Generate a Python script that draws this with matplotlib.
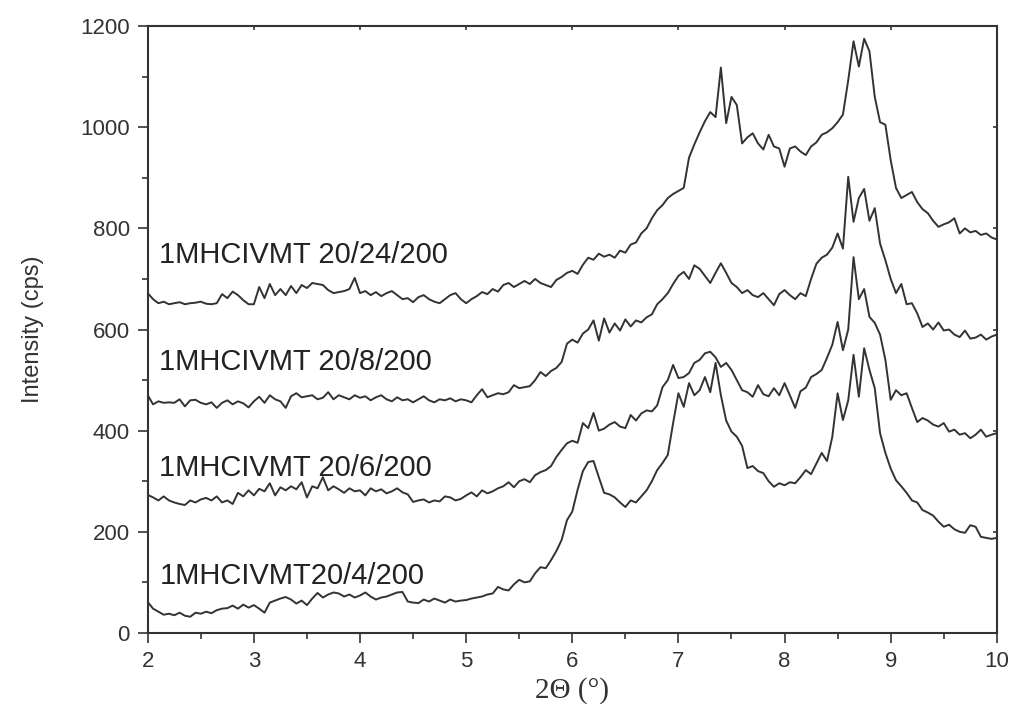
import numpy as np
import matplotlib

matplotlib.use("Agg")
import matplotlib.pyplot as plt
from matplotlib.ticker import MultipleLocator

# 2-theta grid, step 0.05 deg (2.00 ... 10.00)
two_theta = np.round(np.linspace(2.0, 10.0, 161), 2)

labels = ["1MHCIVMT 20/24/200", "1MHCIVMT 20/8/200", "1MHCIVMT 20/6/200", "1MHCIVMT20/4/200"]
label_y = [747, 536, 326, 113]

i_24 = [
    672, 660, 652, 655, 650, 652, 654, 650, 652, 653, 655, 651, 650, 652, 670, 662, 675, 668, 658, 650,
    650, 684, 662, 690, 668, 680, 668, 686, 672, 688, 682, 692, 690, 688, 678, 672, 674, 676, 680, 702,
    672, 676, 668, 674, 666, 672, 676, 668, 660, 662, 654, 664, 668, 660, 655, 652, 660, 668, 672, 660,
    652, 660, 666, 674, 670, 680, 675, 688, 692, 684, 690, 696, 690, 700, 692, 688, 684, 698, 704, 712,
    716, 710, 728, 742, 738, 750, 744, 748, 742, 756, 752, 768, 772, 790, 800, 820, 836, 846, 860, 868,
    874, 880, 940, 966, 990, 1012, 1030, 1020, 1118, 1008, 1060, 1044, 968, 980, 988, 968, 956, 985, 962, 958,
    922, 958, 962, 952, 945, 962, 970, 985, 990, 998, 1010, 1025, 1093, 1170, 1120, 1175, 1150, 1060, 1010, 1005,
    935, 880, 860, 866, 872, 852, 838, 830, 815, 803, 808, 812, 820, 790, 800, 792, 795, 787, 790, 782,
    778,
]

i_8 = [
    470, 452, 458, 455, 456, 455, 462, 448, 460, 461, 455, 452, 456, 445, 455, 460, 452, 458, 454, 446,
    458, 467, 455, 470, 462, 458, 445, 468, 474, 466, 468, 470, 462, 465, 476, 462, 470, 466, 462, 470,
    465, 468, 460, 466, 470, 462, 458, 466, 460, 462, 456, 462, 468, 460, 456, 462, 460, 464, 458, 462,
    460, 456, 470, 482, 466, 470, 474, 472, 476, 490, 484, 486, 488, 500, 516, 508, 518, 524, 536, 572,
    580, 574, 592, 600, 618, 578, 622, 594, 612, 598, 620, 606, 618, 614, 624, 630, 650, 660, 672, 690,
    706, 714, 700, 727, 720, 706, 692, 712, 731, 712, 692, 684, 672, 678, 668, 664, 672, 660, 648, 670,
    678, 668, 660, 672, 666, 700, 730, 742, 748, 762, 790, 760, 902, 813, 860, 878, 815, 840, 770, 737,
    700, 672, 690, 650, 652, 632, 605, 612, 600, 614, 598, 600, 590, 585, 598, 582, 584, 590, 580, 586,
    590,
]

i_6 = [
    273, 268, 262, 270, 262, 258, 255, 253, 262, 258, 264, 267, 262, 270, 258, 262, 255, 277, 270, 282,
    272, 285, 280, 296, 272, 288, 282, 290, 284, 298, 268, 290, 286, 308, 282, 290, 284, 277, 286, 280,
    282, 272, 286, 280, 284, 276, 280, 286, 278, 274, 259, 262, 264, 258, 262, 260, 270, 268, 262, 265,
    272, 278, 270, 282, 276, 280, 286, 290, 298, 288, 300, 304, 298, 312, 318, 322, 330, 348, 362, 375,
    380, 376, 415, 405, 435, 400, 404, 412, 417, 408, 405, 431, 420, 434, 440, 438, 450, 486, 500, 530,
    504, 506, 514, 534, 540, 553, 556, 545, 526, 534, 520, 500, 480, 476, 467, 490, 472, 468, 484, 470,
    494, 470, 445, 478, 485, 506, 512, 520, 544, 570, 615, 559, 600, 743, 660, 680, 625, 613, 590, 540,
    461, 480, 470, 474, 445, 417, 425, 420, 412, 408, 415, 398, 402, 392, 395, 385, 392, 402, 388, 392,
    395,
]

i_4 = [
    61, 48, 42, 36, 38, 35, 40, 34, 32, 40, 38, 42, 39, 45, 48, 49, 54, 48, 56, 50,
    55, 48, 40, 60, 64, 68, 71, 66, 58, 64, 55, 68, 79, 70, 76, 80, 78, 72, 76, 70,
    74, 80, 72, 66, 70, 72, 76, 80, 81, 62, 60, 59, 66, 62, 68, 64, 60, 66, 62, 64,
    65, 68, 70, 72, 76, 78, 91, 86, 84, 96, 105, 100, 102, 118, 130, 128, 144, 162, 184, 223,
    240, 283, 320, 338, 340, 308, 277, 274, 268, 258, 249, 262, 258, 270, 282, 300, 322, 336, 352, 415,
    474, 447, 494, 470, 480, 506, 476, 534, 470, 420, 398, 388, 370, 326, 330, 320, 316, 300, 289, 296,
    292, 298, 296, 308, 322, 314, 335, 356, 340, 388, 474, 421, 460, 550, 467, 563, 520, 484, 395, 356,
    325, 302, 290, 277, 262, 258, 243, 238, 232, 220, 210, 214, 205, 200, 198, 213, 210, 190, 188, 186,
    188,
]

LINE = "#333333"

plt.rcParams["font.family"] = ["Liberation Sans", "DejaVu Sans"]

fig = plt.figure(figsize=(10.12, 7.25), dpi=100)
ax = fig.add_axes([0.146, 0.127, 0.839, 0.837])

for series in (i_24, i_8, i_6, i_4):
    ax.plot(two_theta, series, color=LINE, lw=1.4)

for text, y in zip(labels, label_y):
    ax.text(2.11, y, text, fontsize=21, color="#222222", va="center", ha="left")

ax.set_xlim(2, 10)
ax.set_ylim(0, 1200)
ax.xaxis.set_major_locator(MultipleLocator(1))
ax.xaxis.set_minor_locator(MultipleLocator(0.5))
ax.yaxis.set_major_locator(MultipleLocator(200))
ax.yaxis.set_minor_locator(MultipleLocator(100))

ax.tick_params(which="major", direction="out", length=7, width=1.2, labelsize=16,
               colors="#333333", pad=6)
ax.tick_params(which="minor", direction="out", length=4, width=1.2, colors="#333333")
for spine in ax.spines.values():
    spine.set_linewidth(1.5)
    spine.set_color("#333333")

# small inward ticks on the top and right frame edges
top = ax.secondary_xaxis("top")
top.set_xticks(np.arange(2, 11, 1))
top.tick_params(direction="in", length=3, width=1.2, labeltop=False, colors="#333333")
top.spines["top"].set_visible(False)
right = ax.secondary_yaxis("right")
right.set_yticks(np.arange(0, 1201, 200))
right.tick_params(direction="in", length=3, width=1.2, labelright=False, colors="#333333")
right.spines["right"].set_visible(False)

ax.set_ylabel("Intensity (cps)", fontsize=17, color="#333333", labelpad=26)
ax.set_xlabel("2\u0398 (\u00b0)", fontsize=21, color="#333333", labelpad=4,
              family=["Liberation Serif", "DejaVu Serif"])

fig.savefig("out.png", dpi=100)
